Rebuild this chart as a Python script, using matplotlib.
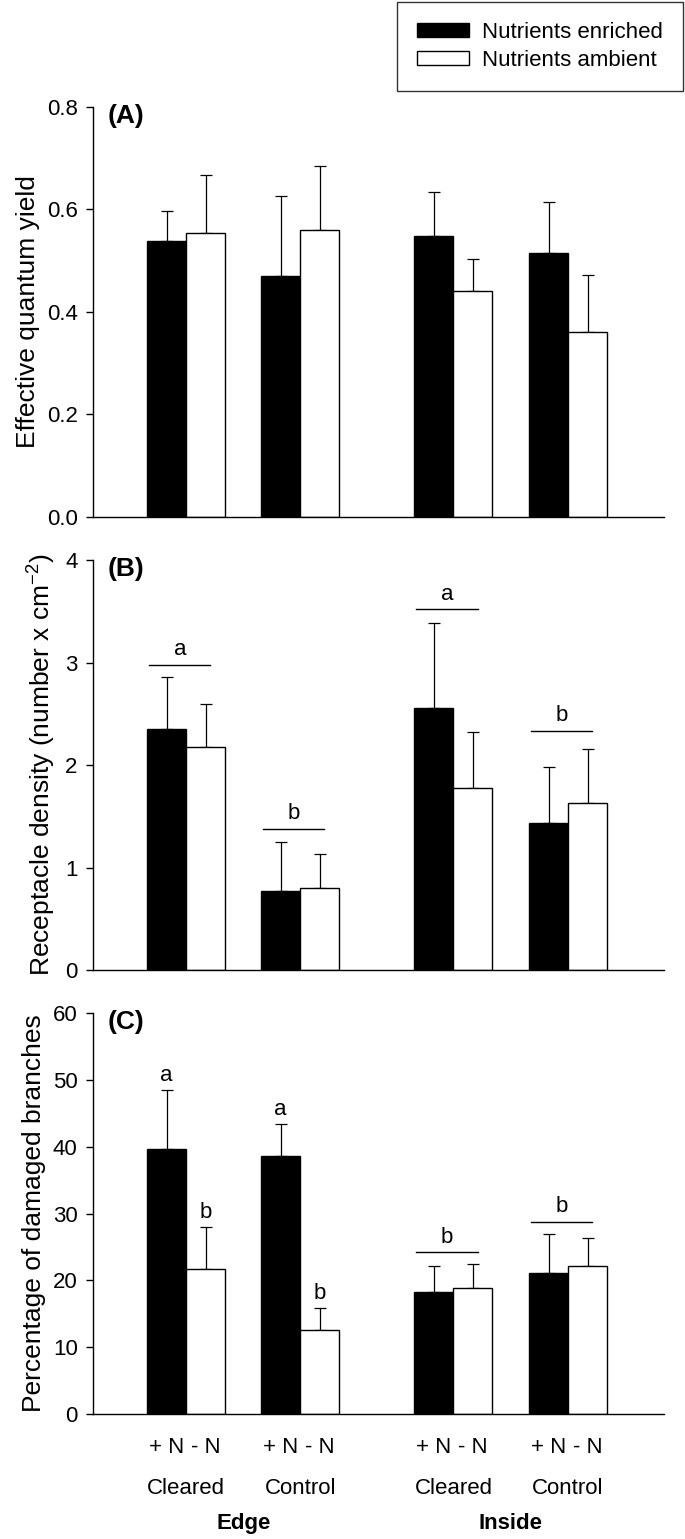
import matplotlib
matplotlib.use('Agg')
import matplotlib.pyplot as plt
from matplotlib.patches import Patch

plt.rcParams['font.family'] = ['Liberation Sans', 'DejaVu Sans']
plt.rcParams['mathtext.default'] = 'regular'

# treatments / sites
groups = ['Cleared', 'Control', 'Cleared', 'Control']
sites = ['Edge', 'Inside']
series = ['Nutrients enriched', 'Nutrients ambient']

# (A) effective quantum yield, mean and SE
yield_enr = [0.538, 0.471, 0.549, 0.516]
yield_enr_se = [0.059, 0.155, 0.085, 0.098]
yield_amb = [0.554, 0.559, 0.440, 0.360]
yield_amb_se = [0.113, 0.126, 0.064, 0.112]

# (B) receptacle density
rec_enr = [2.35, 0.77, 2.56, 1.43]
rec_enr_se = [0.51, 0.48, 0.83, 0.55]
rec_amb = [2.18, 0.80, 1.78, 1.63]
rec_amb_se = [0.42, 0.33, 0.54, 0.53]
rec_letters = ['a', 'b', 'a', 'b']
rec_letter_y = [2.98, 1.38, 3.52, 2.33]

# (C) percentage of damaged branches
dmg_enr = [39.7, 38.6, 18.2, 21.1]
dmg_enr_se = [8.8, 4.8, 3.9, 5.8]
dmg_amb = [21.65, 12.5, 18.8, 22.1]
dmg_amb_se = [6.3, 3.3, 3.7, 4.3]
dmg_bar_letters_enr = ['a', 'a', None, None]
dmg_bar_letters_amb = ['b', 'b', None, None]
dmg_group_letters = [None, None, 'b', 'b']
dmg_group_letter_y = [None, None, 24.2, 28.8]

# layout
group_x = [2.39, 5.31, 9.24, 12.18]
bw = 1.0
xmax = 14.64

fig = plt.figure(figsize=(6.85, 15.39), dpi=100)
left, width = 0.1358, 0.8336
ax_a = fig.add_axes([left, 0.6641, width, 0.2664])
ax_b = fig.add_axes([left, 0.3697, width, 0.2664])
ax_c = fig.add_axes([left, 0.0812, width, 0.2606])


def draw_panel(ax, enr, enr_se, amb, amb_se, ymax, yticks, ylabel, tag, fmt):
    xe = [g - bw / 2 for g in group_x]
    xa = [g + bw / 2 for g in group_x]
    ax.bar(xe, enr, width=bw, color='black', edgecolor='black', linewidth=1.0, zorder=2)
    ax.bar(xa, amb, width=bw, color='white', edgecolor='black', linewidth=1.0, zorder=2)
    for xs, vals, se in [(xe, enr, enr_se), (xa, amb, amb_se)]:
        ax.errorbar(xs, vals, yerr=[[0] * len(se), se], fmt='none', ecolor='black',
                    elinewidth=0.9, capsize=4.5, capthick=0.9, zorder=1)
    ax.set_xlim(0, xmax)
    ax.set_ylim(0, ymax)
    ax.set_yticks(yticks)
    ax.set_yticklabels([fmt.format(t) for t in yticks], fontsize=16)
    ax.set_xticks([])
    for s in ['top', 'right']:
        ax.spines[s].set_visible(False)
    for s in ['left', 'bottom']:
        ax.spines[s].set_linewidth(1.0)
    ax.tick_params(axis='y', direction='out', length=5, width=1.0, pad=6)
    ax.set_ylabel(ylabel, fontsize=19, labelpad=5)
    ax.text(0.025, 1.008, tag, transform=ax.transAxes, fontsize=19, fontweight='bold',
            va='top', ha='left')


def group_bar(ax, g, y, letter):
    ax.plot([group_x[g] - 0.95, group_x[g] + 0.62], [y, y], color='black', lw=1.0)
    ax.annotate(letter, xy=(group_x[g] - 0.16, y), xytext=(0, 7), textcoords='offset points',
                ha='center', va='baseline', fontsize=16)


draw_panel(ax_a, yield_enr, yield_enr_se, yield_amb, yield_amb_se, 0.8,
           [0.0, 0.2, 0.4, 0.6, 0.8], 'Effective quantum yield', '(A)', '{:.1f}')
draw_panel(ax_b, rec_enr, rec_enr_se, rec_amb, rec_amb_se, 4,
           [0, 1, 2, 3, 4], 'Receptacle density (number x cm$^{\\mathregular{-2}}$)', '(B)', '{:d}')
draw_panel(ax_c, dmg_enr, dmg_enr_se, dmg_amb, dmg_amb_se, 60,
           [0, 10, 20, 30, 40, 50, 60], 'Percentage of damaged branches', '(C)', '{:d}')

for g, (lt, ly) in enumerate(zip(rec_letters, rec_letter_y)):
    group_bar(ax_b, g, ly, lt)

for g in range(4):
    if dmg_bar_letters_enr[g]:
        ax_c.annotate(dmg_bar_letters_enr[g], xy=(group_x[g] - bw / 2, dmg_enr[g] + dmg_enr_se[g]),
                      xytext=(0, 6.5), textcoords='offset points', ha='center', va='baseline',
                      fontsize=16)
    if dmg_bar_letters_amb[g]:
        ax_c.annotate(dmg_bar_letters_amb[g], xy=(group_x[g] + bw / 2, dmg_amb[g] + dmg_amb_se[g]),
                      xytext=(0, 6.5), textcoords='offset points', ha='center', va='baseline',
                      fontsize=16)
    if dmg_group_letters[g]:
        group_bar(ax_c, g, dmg_group_letter_y[g], dmg_group_letters[g])

# x labels under panel C
trans = ax_c.get_xaxis_transform()
for g, name in enumerate(groups):
    ax_c.text(group_x[g] - bw / 2, -0.083, '+ N', transform=trans, ha='center', va='center',
              fontsize=16)
    ax_c.text(group_x[g] + bw / 2, -0.083, '- N', transform=trans, ha='center', va='center',
              fontsize=16)
    ax_c.text(group_x[g], -0.185, name, transform=trans, ha='center', va='center', fontsize=16)
for i, site in enumerate(sites):
    xc = (group_x[2 * i] + group_x[2 * i + 1]) / 2
    ax_c.text(xc, -0.272, site, transform=trans, ha='center', va='center', fontsize=16,
              fontweight='bold')

handles = [Patch(facecolor='black', edgecolor='black'),
           Patch(facecolor='white', edgecolor='black', linewidth=1.0)]
leg = fig.legend(handles, series, loc='upper right', bbox_to_anchor=(683 / 685, 1 - 2 / 1539),
                 bbox_transform=fig.transFigure, fontsize=16, frameon=True, fancybox=False,
                 handlelength=2.35, handleheight=0.55, handletextpad=0.6, labelspacing=0.3,
                 borderpad=0.9, borderaxespad=0)
leg.get_frame().set_edgecolor('black')
leg.get_frame().set_linewidth(1.0)

fig.savefig('out.png', dpi=100)
